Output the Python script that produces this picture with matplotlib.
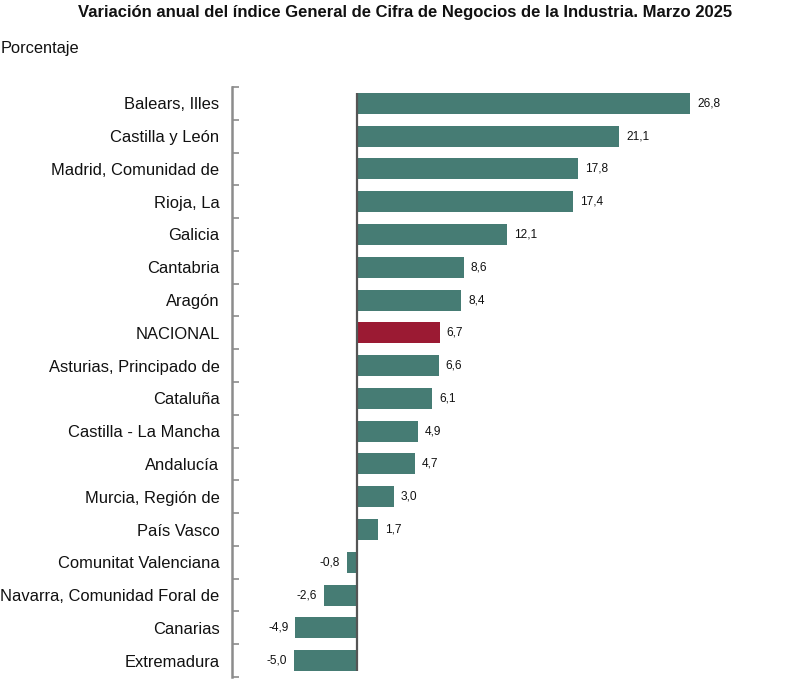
import matplotlib
matplotlib.use("Agg")
import matplotlib.pyplot as plt

categories = ["Balears, Illes", "Castilla y León", "Madrid, Comunidad de", "Rioja, La",
              "Galicia", "Cantabria", "Aragón", "NACIONAL", "Asturias, Principado de",
              "Cataluña", "Castilla - La Mancha", "Andalucía", "Murcia, Región de",
              "País Vasco", "Comunitat Valenciana", "Navarra, Comunidad Foral de",
              "Canarias", "Extremadura"]
values = [26.8, 21.1, 17.8, 17.4, 12.1, 8.6, 8.4, 6.7, 6.6, 6.1, 4.9, 4.7, 3.0, 1.7,
          -0.8, -2.6, -4.9, -5.0]
highlight = "NACIONAL"

TEAL = "#467C74"
RED = "#9B1A33"

plt.rcParams['font.family'] = ['Liberation Sans', 'DejaVu Sans']

fig = plt.figure(figsize=(8.03, 6.88), dpi=100)
ax = fig.add_axes([232/803, 1-677/688, 498/803, (677-87)/688])

n = len(categories)
ypos = list(range(n))
colors = [RED if c == highlight else TEAL for c in categories]
ax.barh(ypos, values, height=0.64, color=colors, zorder=2)

ax.set_xlim(-10, 30)
ax.set_ylim(n - 0.5, -0.5)

for y, v in zip(ypos, values):
    lbl = f"{v:.1f}".replace(".", ",")
    if v >= 0:
        ax.annotate(lbl, (v, y), xytext=(5, 0), textcoords="offset points",
                    ha="left", va="center", fontsize=8.6, color="#111111")
    else:
        ax.annotate(lbl, (v, y), xytext=(-5, 0), textcoords="offset points",
                    ha="right", va="center", fontsize=8.6, color="#111111")

ax.vlines(0, -0.32, n - 1 + 0.32, color="#555555", linewidth=1.6, zorder=3)

for s in ["top", "right", "bottom"]:
    ax.spines[s].set_visible(False)
ax.spines["left"].set_color("#8c8c8c")
ax.spines["left"].set_linewidth(1.8)

ax.set_xticks([])
ax.set_yticks([i - 0.5 for i in range(n + 1)])
ax.set_yticklabels([])
ax.tick_params(axis="y", which="major", direction="in", length=5, width=1.2, color="#8c8c8c")
ax.set_yticks(ypos, minor=True)
ax.set_yticklabels(categories, minor=True, fontsize=11.9, color="#111111")
ax.tick_params(axis="y", which="minor", length=0, pad=9)

fig.text(0.5045, 1 - 13/688, "Variación anual del índice General de Cifra de Negocios de la Industria. Marzo 2025",
         ha="center", va="center", fontsize=12, fontweight="bold", color="#111111")
fig.text(1/803, 1 - 48/688, "Porcentaje", ha="left", va="center", fontsize=11.8, color="#111111")

fig.savefig("out.png", dpi=100)
